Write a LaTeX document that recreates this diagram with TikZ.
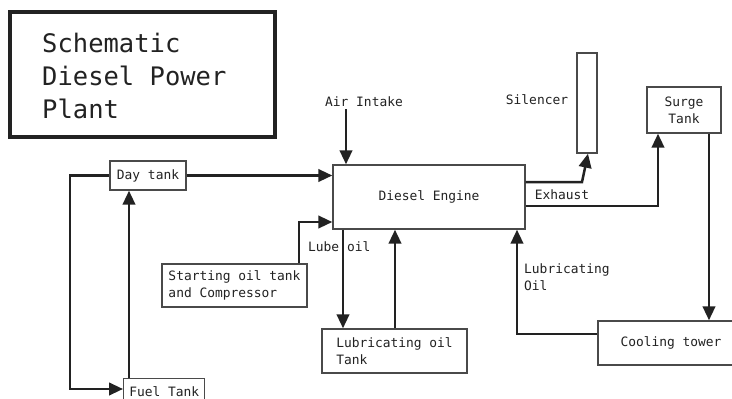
\documentclass[tikz,border=0pt]{standalone}
\usepackage{fontspec}
\setmainfont{DejaVu Sans Mono}
\usetikzlibrary{arrows.meta}
\definecolor{ink}{HTML}{222222}
\definecolor{edge}{HTML}{4A4A4A}
\tikzset{
  box/.style={draw=edge, line width=1.4pt, fill=white, inner sep=0pt, text=ink,
              font=\fontsize{12.9}{17}\selectfont, align=left},
  lbl/.style={inner sep=0pt, text=ink, font=\fontsize{12.9}{17}\selectfont, align=left},
  arr/.style={draw=ink, line width=2.5pt, -{Triangle[length=14pt,width=12.5pt]}},
  pipe/.style={draw=ink, line width=2.5pt}
}
\begin{document}
\begin{tikzpicture}[x=1pt,y=-1pt]
\clip (0,0) rectangle (732,399);
\fill[white] (0,0) rectangle (732,399);
% title
\node[draw=ink, line width=4pt, minimum width=265pt, minimum height=125pt, inner sep=0pt] (title) at (142.5,74.5) {};
\node[lbl, anchor=west, font=\fontsize{25.5}{33}\selectfont] (titletext) at (42,76) {Schematic\\Diesel Power\\Plant};
% boxes
\node[box, minimum width=76pt, minimum height=29pt] (day) at (148,175.5) {Day tank};
\node[box, minimum width=81pt, minimum height=28pt, anchor=north west] (fuel) at (123,378) {\raisebox{2pt}{Fuel Tank}};
\node[box, minimum width=145pt, minimum height=43pt] (start) at (234.5,285.5) {Starting oil tank\\and Compressor};
\node[box, minimum width=192pt, minimum height=64pt] (eng) at (429,197) {Diesel Engine};
\node[box, minimum width=145pt, minimum height=44pt] (lub) at (394.5,351) {Lubricating oil\\Tank};
\node[box, minimum width=146pt, minimum height=44pt] (cool) at (671,343) {Cooling tower};
\node[box, minimum width=74pt, minimum height=46pt, align=center] (surge) at (684,110) {Surge\\Tank};
\node[box, minimum width=20pt, minimum height=100pt] (sil) at (587,103) {};
% labels
\node[lbl] (air) at (364,102) {Air Intake};
\node[lbl] (sillbl) at (537,100) {Silencer};
\node[lbl] (exh) at (562,195) {Exhaust};
\node[lbl, anchor=west] (lube) at (308,247) {Lube oil};
\node[lbl, anchor=north west] (lubo) at (524,263) {Lubricating\\Oil};
% helper coordinates
\coordinate (ax) at (346,0);
\coordinate (lx) at (343,0);
\coordinate (rx) at (395,0);
\coordinate (sx) at (299,0);
\coordinate (sy) at (0,222);
\coordinate (lp) at (70,0);
\coordinate (fy) at (0,389);
\coordinate (fx) at (129,0);
\coordinate (e1) at (0,182);
\coordinate (e1b) at (582,182);
\coordinate (e2) at (0,206);
\coordinate (e2b) at (658,206);
\coordinate (cx) at (709,0);
\coordinate (cy) at (0,334);
\coordinate (ox) at (517,0);
% connectors
\draw[arr] (air.south -| ax) ++(0,2) -- (ax |- eng.north);
\draw[arr] (day.east) -- (day.east -| eng.west);
\draw[arr] (day.west) -- (lp |- day.west) -- (lp |- fy) -- (fuel.west |- fy);
\draw[arr] (fx |- fuel.north) -- (fx |- day.south);
\draw[arr] (sx |- start.north) -- (sx |- sy) -- (eng.west |- sy);
\draw[arr] (lx |- eng.south) -- (lx |- lub.north);
\draw[arr] (rx |- lub.north) -- (rx |- eng.south);
\draw[arr] (eng.east |- e1) -- (e1b) -- ([xshift=1pt]sil.south);
\draw[arr] (eng.east |- e2) -- (e2b) -- (e2b |- surge.south);
\draw[arr] (cx |- surge.south) -- (cx |- cool.north);
\draw[arr] (cool.west |- cy) -- (ox |- cy) -- (ox |- eng.south);
\end{tikzpicture}
\end{document}
